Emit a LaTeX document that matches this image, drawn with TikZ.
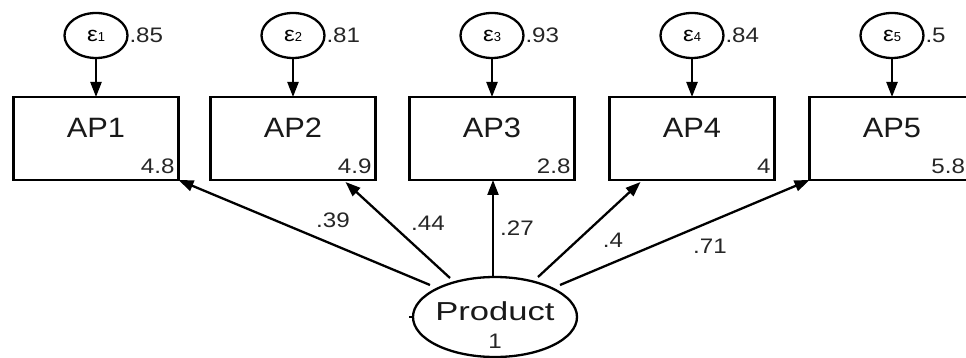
\documentclass[tikz,border=0pt]{standalone}
\usepackage{fontspec}
\setmainfont{Liberation Sans}
\usetikzlibrary{shapes.geometric,arrows.meta,calc}
\newcommand\wide[2]{\scalebox{#1}[1]{#2}}
\tikzset{
  every node/.style={inner sep=0pt, outer sep=0pt},
  obs/.style={draw, line width=2.3pt, rectangle, minimum width=165pt, minimum height=83pt},
  err/.style={draw, line width=2.3pt, ellipse, minimum width=63pt, minimum height=45pt},
  lat/.style={draw, line width=2.3pt, ellipse, minimum width=164pt, minimum height=80pt},
  path/.style={line width=2.3pt, -{Triangle[length=15pt,width=11pt]}},
  obslabel/.style={font=\fontsize{28}{28}\selectfont, text=black!90},
  num/.style={font=\fontsize{21}{21}\selectfont, text=black!85},
}
\newcommand\epsl[1]{{\fontsize{21}{21}\selectfont\wide{1.15}{ε}}{\fontsize{13}{13}\selectfont #1}}
\begin{document}
\begin{tikzpicture}[x=1pt,y=-1pt]
\useasboundingbox (0,0) rectangle (966,358);
\clip (0,0) rectangle (966,358);

% indicators
\foreach \i/\cx/\icpt/\resvar in {1/96/4.8/.85, 2/293/4.9/.81, 3/492/2.8/.93, 4/692/4/.84}{
  \node[obs] (ap\i) at (\cx,138.5) {};
  \node[obslabel] at (\cx,128) {\wide{1.1}{AP\i}};
  \node[num, anchor=east] at ($(ap\i.south east)+(-4,-14)$) {\wide{1.15}{\icpt}};
  \node[err] (e\i) at (\cx,35.5) {\epsl{\i}};
  \node[num, anchor=west] at ($(e\i.east)+(2,0)$) {\wide{1.15}{\resvar}};
  \draw[path] (e\i) -- (ap\i);
}
% last indicator runs off the right edge
\node[obs] (ap5) at (892,138.5) {};
\node[obslabel] at (892,128) {\wide{1.1}{AP5}};
\node[num, anchor=east] at (965,166) {\wide{1.15}{5.8}};
\node[err] (e5) at (892,35.5) {\epsl{5}};
\node[num, anchor=west] at ($(e5.east)+(2,0)$) {\wide{1.15}{.5}};
\draw[path] (e5) -- (ap5);

% latent factor
\node[lat] (prod) at (495,317) {};
\node[font=\fontsize{26}{26}\selectfont, text=black!90] at (495,311) {\wide{1.33}{Product}};
\node[num] at (495,341) {\wide{1.15}{1}};
\draw[line width=1.5pt] (prod.west) -- ++(-4,0);

% loadings
\coordinate (s1) at (430,285);
\coordinate (s2) at (450,278);
\coordinate (s3) at (493,277);
\coordinate (s4) at (538,277);
\coordinate (s5) at (560,285);
\draw[path] (s1) -- (ap1.south east);
\draw[path] (s2) -- ($(ap2.south east)+(-30,2)$);
\draw[path] (s3) -- (ap3.south -| s3);
\draw[path] (s4) -- ($(ap4.south west)+(31,2)$);
\draw[path] (s5) -- (ap5.south west);

\node[num] at (333,220) {\wide{1.15}{.39}};
\node[num] at (428,223) {\wide{1.15}{.44}};
\node[num] at (517,228) {\wide{1.15}{.27}};
\node[num] at (613,240) {\wide{1.15}{.4}};
\node[num] at (710,246) {\wide{1.15}{.71}};
\end{tikzpicture}
\end{document}
